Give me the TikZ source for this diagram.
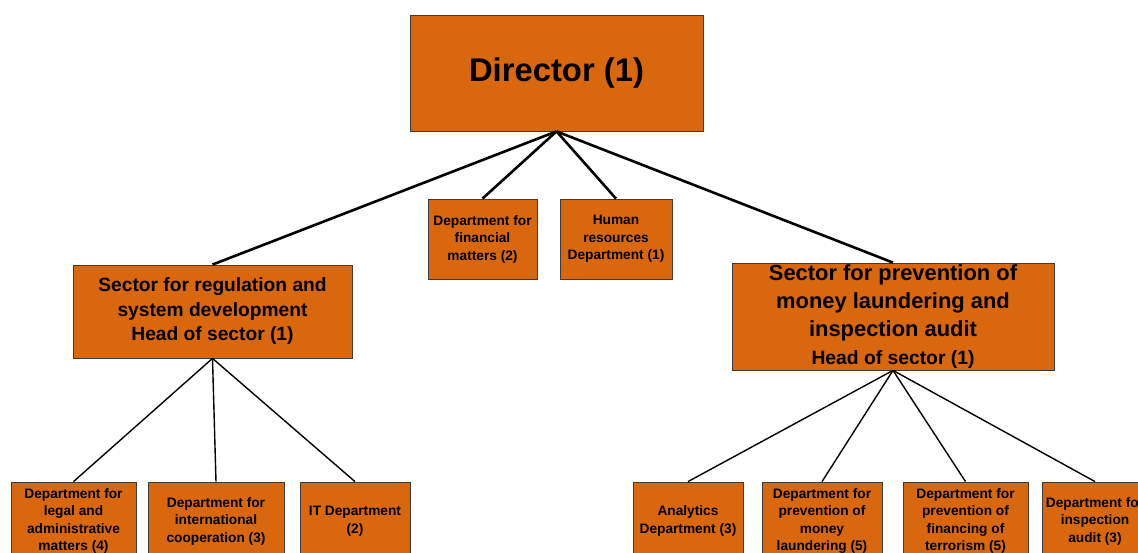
\documentclass[tikz,border=0pt]{standalone}
\usepackage{fontspec}
\setmainfont{Liberation Sans}
\definecolor{boxorange}{RGB}{217,103,13}
\definecolor{boxedge}{RGB}{60,60,60}
\begin{document}
\begin{tikzpicture}[x=1pt,y=-1pt,
  orgbox/.style={draw=boxedge,line width=0.8pt,fill=boxorange,inner sep=0pt,align=center,font=\bfseries},
  small/.style={orgbox,font=\bfseries\fontsize{13.7}{17.5}\selectfont},
  thickline/.style={line width=2.6pt},
  thinline/.style={line width=1.4pt}]
\useasboundingbox (0,0) rectangle (1138,553);
\node[orgbox,minimum width=293pt,minimum height=116pt,font=\bfseries\fontsize{32.8}{38}\selectfont] (dir) at (556.5,73) {Director (1)};
\node[small,minimum width=109pt,minimum height=80pt] (fin) at (482.5,239) {Department for\\financial\\matters (2)};
\node[small,minimum width=112pt,minimum height=80pt] (hr) at (616,239) {Human\\resources\\Department (1)};
\node[orgbox,minimum width=279pt,minimum height=93pt,font=\bfseries\fontsize{19.2}{24.5}\selectfont] (secl) at (212.5,311.5) {Sector for regulation and\\system development\\Head of sector (1)};
\node[orgbox,minimum width=322pt,minimum height=107pt,font=\bfseries\fontsize{21.9}{28}\selectfont] (secr) at (893,316.5) {Sector for prevention of\\money laundering and\\inspection audit\\\fontsize{19.3}{28}\selectfont Head of sector (1)};
\node[small,minimum width=125pt,minimum height=78pt] (b1) at (73.5,521) {Department for\\legal and\\administrative\\matters (4)};
\node[small,minimum width=136pt,minimum height=78pt] (b2) at (216,521) {Department for\\international\\cooperation (3)};
\node[small,minimum width=110pt,minimum height=78pt] (b3) at (355,521) {IT Department\\(2)};
\node[small,minimum width=110pt,minimum height=78pt] (b4) at (688,521) {Analytics\\Department (3)};
\node[small,minimum width=120pt,minimum height=78pt] (b5) at (822,521) {Department for\\prevention of\\money\\laundering (5)};
\node[small,minimum width=125pt,minimum height=78pt] (b6) at (965.5,521) {Department for\\prevention of\\financing of\\terrorism (5)};
\node[small,minimum width=106pt,minimum height=78pt] (b7) at (1095,521) {Department for\\inspection\\audit (3)};
\draw[thickline] (dir.south) -- (secl.north);
\draw[thickline] (dir.south) -- (fin.north);
\draw[thickline] (dir.south) -- (hr.north);
\draw[thickline] (dir.south) -- (secr.north);
\draw[thinline] (secl.south) -- (b1.north);
\draw[thinline] (secl.south) -- (b2.north);
\draw[thinline] (secl.south) -- (b3.north);
\draw[thinline] (secr.south) -- (b4.north);
\draw[thinline] (secr.south) -- (b5.north);
\draw[thinline] (secr.south) -- (b6.north);
\draw[thinline] (secr.south) -- (b7.north);
\end{tikzpicture}
\end{document}
